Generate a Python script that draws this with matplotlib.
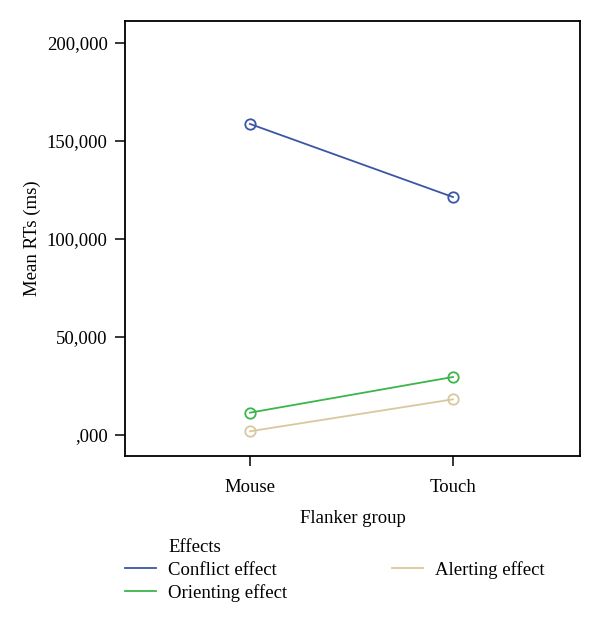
import matplotlib
matplotlib.use("Agg")
import matplotlib.pyplot as plt

groups = ["Mouse", "Touch"]
conflict = [158700, 121400]
orienting = [11400, 29600]
alerting = [1900, 18200]
series_names = ["Conflict effect", "Orienting effect", "Alerting effect"]
colors = ["#3b56a5", "#3cb54b", "#d8c89b"]
yticks = [0, 50000, 100000, 150000, 200000]
ytick_labels = [",000", "50,000", "100,000", "150,000", "200,000"]

plt.rcParams['font.family'] = ['Liberation Serif', 'DejaVu Serif']
FS = 13.5

fig = plt.figure(figsize=(6, 6.25), dpi=100)
ax = fig.add_axes([0.2083, 0.2704, 0.9667 - 0.2083, 0.9664 - 0.2704])

x = list(range(len(groups)))
handles = []
for vals, name, c in zip([conflict, orienting, alerting], series_names, colors):
    ax.plot(x, vals, color=c, lw=1.3, marker='o', markersize=7.5,
            markerfacecolor='none', markeredgecolor=c, markeredgewidth=1.3)
    h, = ax.plot([], [], color=c, lw=1.3, label=name)
    handles.append(h)

ax.set_xlim(-0.616, 1.626)
ax.set_ylim(-10714, 211224)
ax.set_xticks(x)
ax.set_xticklabels(groups, fontsize=FS)
ax.set_yticks(yticks)
ax.set_yticklabels(ytick_labels, fontsize=FS)
ax.tick_params(axis='both', direction='out', length=7, width=1.1)
ax.tick_params(axis='x', pad=9.5)
ax.tick_params(axis='y', pad=5.5)
for s in ax.spines.values():
    s.set_linewidth(1.3)

ax.set_xlabel("Flanker group", fontsize=FS, labelpad=10)
ax.set_ylabel("Mean RTs (ms)", fontsize=FS, labelpad=4)

fig.text(0.28, 1 - 548 / 625, "Effects", fontsize=FS, ha='left', va='center')
fig.legend(handles=handles, labels=series_names, loc='upper left',
           bbox_to_anchor=(0.2083, 1 - 561 / 625), ncol=2, frameon=False,
           fontsize=FS, borderpad=0, borderaxespad=0, handlelength=1.65,
           handletextpad=0.65, labelspacing=0.28, columnspacing=5.6)

fig.savefig("out.png", dpi=100)
